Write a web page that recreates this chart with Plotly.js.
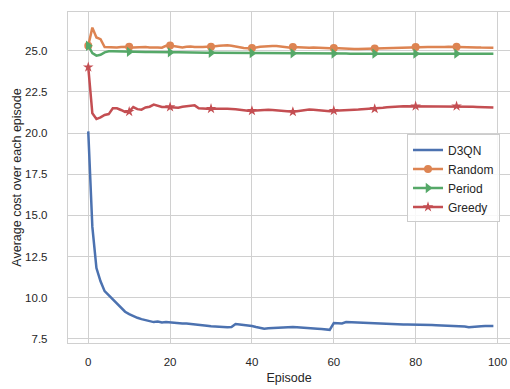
<!DOCTYPE html>
<html>
<head>
<meta charset="utf-8">
<script src="https://cdn.plot.ly/plotly-3.0.1.min.js"></script>
<style>html,body{margin:0;padding:0;background:#fff;}#chart{width:510px;height:389px;}</style>
</head>
<body>
<div id="chart"></div>
<script>
var seriesNames = ["D3QN", "Random", "Period", "Greedy"];
var d3qn = [20.1,14.3,11.8,11.0,10.4,10.15,9.9,9.65,9.4,9.15,
  9.0,8.88,8.78,8.7,8.64,8.57,8.52,8.55,8.5,8.52,
  8.5,8.45,8.42,8.43,8.44,8.42,8.38,8.34,8.32,8.3,
  8.27,8.25,8.23,8.22,8.21,8.22,8.4,8.38,8.36,8.33,
  8.28,8.22,8.16,8.12,8.14,8.16,8.18,8.19,8.2,8.21,
  8.22,8.21,8.2,8.18,8.16,8.14,8.12,8.1,8.07,8.05,
  8.46,8.45,8.44,8.52,8.51,8.5,8.49,8.47,8.45,8.43,
  8.41,8.4,8.39,8.38,8.37,8.36,8.36,8.37,8.38,8.38,
  8.37,8.37,8.36,8.35,8.34,8.33,8.32,8.32,8.31,8.3,
  8.3,8.28,8.25,8.21,8.24,8.27,8.27,8.28,8.28,8.28];
var random = [25.3,26.4,25.8,25.7,25.22,25.2,25.22,25.2,25.22,25.25,
  25.24,25.2,25.22,25.25,25.23,25.2,25.22,25.2,25.18,25.3,
  25.32,25.28,25.22,25.2,25.24,25.26,25.22,25.2,25.22,25.24,
  25.24,25.27,25.3,25.33,25.33,25.3,25.25,25.2,25.17,25.15,
  25.16,25.2,25.24,25.27,25.28,25.29,25.28,25.25,25.22,25.2,
  25.22,25.2,25.18,25.17,25.18,25.2,25.18,25.16,25.15,25.15,
  25.16,25.14,25.12,25.1,25.1,25.1,25.1,25.11,25.12,25.12,
  25.13,25.14,25.15,25.16,25.17,25.18,25.19,25.2,25.2,25.22,
  25.23,25.22,25.22,25.23,25.23,25.22,25.22,25.23,25.24,25.24,
  25.24,25.22,25.21,25.2,25.2,25.2,25.19,25.19,25.18,25.18];
var period = [25.3,24.85,24.7,24.75,24.9,24.96,24.96,24.95,24.94,24.94,
  24.93,24.93,24.93,24.92,24.92,24.92,24.91,24.91,24.91,24.9,
  24.9,24.9,24.9,24.89,24.89,24.88,24.88,24.88,24.87,24.87,
  24.87,24.87,24.87,24.86,24.86,24.86,24.86,24.86,24.85,24.85,
  24.85,24.85,24.85,24.85,24.85,24.84,24.84,24.84,24.84,24.84,
  24.84,24.84,24.84,24.83,24.83,24.83,24.83,24.83,24.83,24.83,
  24.83,24.83,24.83,24.83,24.82,24.82,24.82,24.82,24.82,24.82,
  24.82,24.82,24.82,24.82,24.82,24.82,24.82,24.82,24.82,24.82,
  24.82,24.82,24.82,24.82,24.82,24.82,24.82,24.82,24.82,24.82,
  24.82,24.82,24.82,24.82,24.82,24.82,24.82,24.82,24.82,24.82];
var greedy = [24.0,21.2,20.85,20.95,21.1,21.15,21.5,21.5,21.4,21.28,
  21.3,21.58,21.45,21.42,21.55,21.6,21.73,21.65,21.58,21.58,
  21.58,21.56,21.54,21.6,21.64,21.67,21.68,21.5,21.47,21.47,
  21.48,21.49,21.49,21.47,21.47,21.48,21.45,21.42,21.38,21.35,
  21.35,21.37,21.39,21.41,21.41,21.4,21.37,21.34,21.31,21.29,
  21.29,21.32,21.36,21.4,21.43,21.41,21.38,21.35,21.33,21.33,
  21.36,21.38,21.4,21.41,21.41,21.42,21.43,21.44,21.45,21.46,
  21.47,21.5,21.53,21.56,21.59,21.6,21.61,21.62,21.62,21.63,
  21.63,21.63,21.63,21.63,21.63,21.63,21.63,21.63,21.63,21.63,
  21.63,21.62,21.61,21.6,21.59,21.58,21.57,21.56,21.55,21.55];
var episodes = d3qn.map(function(_, i){ return i; });
var markerIdx = [0,10,20,30,40,50,60,70,80,90];
var xTicks = [0,20,40,60,80,100];
var yTicks = [7.5,10.0,12.5,15.0,17.5,20.0,22.5,25.0];
var yTickText = ["7.5","10.0","12.5","15.0","17.5","20.0","22.5","25.0"];

var colors = ["#4C72B0", "#DD8452", "#55A868", "#C44E52"];
var symbols = [null, "circle", "triangle-right", "star"];
var msizes = [0, 8, 9, 8];
var allY = [d3qn, random, period, greedy];

var data = [];
allY.forEach(function(ys, k){
  data.push({
    x: episodes, y: ys, type: "scatter", mode: "lines",
    name: seriesNames[k], legendgroup: seriesNames[k], showlegend: k === 0,
    line: {color: colors[k], width: 2.5}, hoverinfo: "skip"
  });
  if (k > 0) {
    data.push({
      x: markerIdx, y: markerIdx.map(function(i){ return ys[i]; }),
      type: "scatter", mode: "markers", name: seriesNames[k],
      legendgroup: seriesNames[k], showlegend: false,
      marker: {color: colors[k], symbol: symbols[k], size: msizes[k], line: {width: 0}}
    });
    data.push({
      x: [null], y: [null], type: "scatter", mode: "lines+markers",
      name: seriesNames[k], legendgroup: seriesNames[k], showlegend: true,
      line: {color: colors[k], width: 2.5},
      marker: {color: colors[k], symbol: symbols[k], size: msizes[k], line: {width: 0}}
    });
  }
});

var font = {family: "Liberation Sans, Arial, Helvetica, sans-serif", color: "#262626"};
var layout = {
  width: 510, height: 389,
  margin: {l: 68, r: 0, t: 12, b: 46},
  paper_bgcolor: "#ffffff", plot_bgcolor: "#ffffff",
  font: {family: font.family, color: font.color, size: 11},
  showlegend: true,
  legend: {
    x: 0.767, y: 0.63, xanchor: "left", yanchor: "top",
    bgcolor: "rgba(255,255,255,0.85)", bordercolor: "#cccccc", borderwidth: 1,
    font: {family: font.family, color: font.color, size: 12},
    itemwidth: 30, tracegroupgap: 0
  },
  xaxis: {
    range: [-4.95, 103.06], tickvals: xTicks, ticktext: xTicks.map(String),
    showgrid: true, gridcolor: "#d0d0d0", gridwidth: 1,
    zeroline: false, showline: true, linecolor: "#d0d0d0", linewidth: 1.2, mirror: true,
    ticks: "", ticklabelstandoff: 8,
    tickfont: {family: font.family, color: font.color, size: 11.5},
    title: {text: "Episode", font: {family: font.family, color: font.color, size: 12.5}, standoff: 6}
  },
  yaxis: {
    range: [7.25, 27.35], tickvals: yTicks, ticktext: yTickText,
    showgrid: true, gridcolor: "#d0d0d0", gridwidth: 1,
    zeroline: false, showline: true, linecolor: "#d0d0d0", linewidth: 1.2, mirror: false,
    ticks: "", ticklabelstandoff: 17,
    tickfont: {family: font.family, color: font.color, size: 11.5},
    title: {text: "Average cost over each episode", font: {family: font.family, color: font.color, size: 12.5}, standoff: 0}
  }
};

Plotly.newPlot("chart", data, layout, {displayModeBar: false, staticPlot: true});
</script>
</body>
</html>
